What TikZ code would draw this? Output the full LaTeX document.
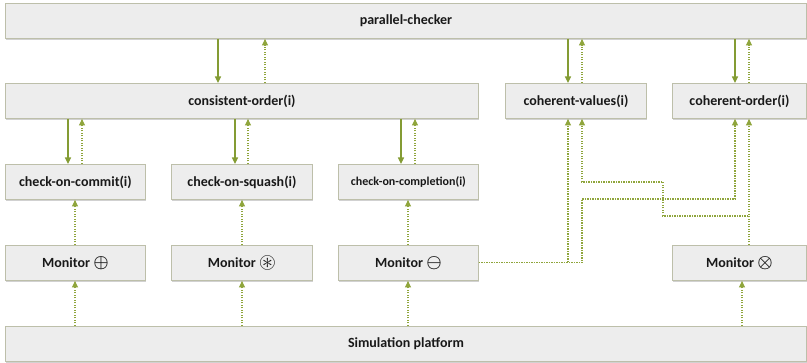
\documentclass[tikz,border=0pt]{standalone}
\usepackage{fontspec}
\usepackage{amsmath}
\usepackage{amssymb}
\setmainfont{Carlito}
\usetikzlibrary{arrows.meta,shadows}
\definecolor{boxfill}{HTML}{EDEDED}
\definecolor{boxline}{HTML}{BDBFAA}
\definecolor{arr}{HTML}{849C34}
\definecolor{dotc}{HTML}{8FA53C}
\newcommand{\bigsym}[1]{{\fontsize{17}{17}\selectfont$\boldsymbol{#1}$}}
\begin{document}
\begin{tikzpicture}[x=1pt,y=-1pt,
 box/.style={draw=boxline, line width=0.9pt, fill=boxfill, anchor=north west, inner sep=0pt,
   minimum height=35pt, text=black!90, font=\bfseries\fontsize{14}{16}\selectfont,
   drop shadow={shadow xshift=1pt, shadow yshift=-1.2pt, fill=black!30, opacity=0.6}},
 solidarrow/.style={draw=arr, line width=1.2pt, -{Triangle[width=6pt,length=6.5pt]}},
 dotarrow/.style={draw=dotc, line width=1.1pt, dash pattern=on 1.2pt off 1.3pt, -{Triangle[width=6pt,length=6.5pt]}}]
\useasboundingbox (0,0) rectangle (807,363);
% boxes
\node[box, minimum width=801pt] (pc) at (5,3) {parallel-checker};
\node[box, minimum width=473pt] (co) at (5,83) {consistent-order(i)};
\node[box, minimum width=141pt] (cv) at (505,83) {coherent-values(i)};
\node[box, minimum width=134pt] (cor) at (672,83) {coherent-order(i)};
\node[box, minimum width=140pt] (cc) at (5,164) {check-on-commit(i)};
\node[box, minimum width=141pt] (cs) at (171,164) {check-on-squash(i)};
\node[box, minimum width=140pt, font=\bfseries\fontsize{12}{14}\selectfont] (ccp) at (338,164) {check-on-completion(i)};
\node[box, minimum width=140pt] (m1) at (5,245) {Monitor \bigsym{\oplus}};
\node[box, minimum width=141pt] (m2) at (171,245) {Monitor \raisebox{-0.5pt}{\scalebox{1.3}{\bigsym{\circledast}}}};
\node[box, minimum width=140pt] (m3) at (338,245) {Monitor \bigsym{\ominus}};
\node[box, minimum width=134pt] (m4) at (672,245) {Monitor \bigsym{\otimes}};
\node[box, minimum width=801pt] (sim) at (5,326) {Simulation platform};
% parallel-checker links
\draw[solidarrow] (pc.south -| 218,0) -- (co.north -| 218,0);
\draw[dotarrow] (co.north -| 265,0) -- (pc.south -| 265,0);
\draw[solidarrow] (pc.south -| 568,0) -- (cv.north -| 568,0);
\draw[dotarrow] (cv.north -| 582,0) -- (pc.south -| 582,0);
\draw[solidarrow] (pc.south -| 735,0) -- (cor.north -| 735,0);
\draw[dotarrow] (cor.north -| 749,0) -- (pc.south -| 749,0);
% consistent-order links
\draw[solidarrow] (co.south -| 68,0) -- (cc.north -| 68,0);
\draw[dotarrow] (cc.north -| 82,0) -- (co.south -| 82,0);
\draw[solidarrow] (co.south -| 235,0) -- (cs.north -| 235,0);
\draw[dotarrow] (cs.north -| 248,0) -- (co.south -| 248,0);
\draw[solidarrow] (co.south -| 401,0) -- (ccp.north -| 401,0);
\draw[dotarrow] (ccp.north -| 415,0) -- (co.south -| 415,0);
% monitors to checkers
\draw[dotarrow] (m1.north -| 75,0) -- (cc.south -| 75,0);
\draw[dotarrow] (m2.north -| 242,0) -- (cs.south -| 242,0);
\draw[dotarrow] (m3.north -| 408,0) -- (ccp.south -| 408,0);
% simulation to monitors
\draw[dotarrow] (sim.north -| 75,0) -- (m1.south -| 75,0);
\draw[dotarrow] (sim.north -| 242,0) -- (m2.south -| 242,0);
\draw[dotarrow] (sim.north -| 408,0) -- (m3.south -| 408,0);
\draw[dotarrow] (sim.north -| 742,0) -- (m4.south -| 742,0);
% monitor minus to coherent checkers
\draw[dotarrow] (m3.east) -| (cv.south -| 568,0);
\draw[dotarrow] (m3.east) -- (m3.east -| 582,0) -- (582,199) -- (735,199) -- (cor.south -| 735,0);
% monitor times to coherent checkers
\draw[dotarrow] (m4.north -| 749,0) -- (749,216) -- (663,216) -- (663,182) -- (582,182) -- (cv.south -| 582,0);
\draw[dotarrow] (m4.north -| 749,0) -- (cor.south -| 749,0);
\end{tikzpicture}
\end{document}
